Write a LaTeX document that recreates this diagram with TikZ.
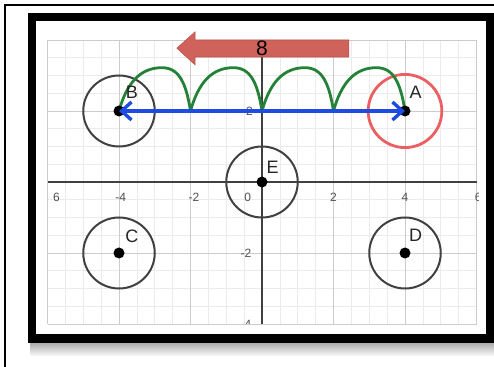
\documentclass[tikz,border=0pt]{standalone}
\usepackage{fontspec}
\setmainfont{Liberation Sans}
\usetikzlibrary{arrows.meta}
\definecolor{circgray}{RGB}{64,64,64}
\definecolor{ringred}{RGB}{235,95,98}
\definecolor{arrowred}{RGB}{208,98,92}
\definecolor{arrowedge}{RGB}{185,80,75}
\definecolor{bluearrow}{RGB}{30,75,225}
\definecolor{greenpath}{RGB}{35,130,55}
\definecolor{ticklab}{RGB}{80,80,80}
\tikzset{
  ring/.style={draw=circgray, line width=2pt},
  redring/.style={draw=ringred, line width=2.8pt},
  dotpt/.style={circle, fill=black, inner sep=0pt, minimum size=11pt},
  ptlabel/.style={font=\fontsize{18}{18}\selectfont, text=black!85, inner sep=0pt},
  ticklabel/.style={font=\fontsize{12}{12}\selectfont, text=ticklab, inner sep=0pt},
  arch/.style={draw=greenpath, line width=2.8pt},
  bluelink/.style={draw=bluearrow, line width=3.4pt},
}
\begin{document}
\begin{tikzpicture}[x=1pt,y=1pt]
\clip (0,0) rectangle (494,366);
\useasboundingbox (0,0) rectangle (494,366);
\fill[white] (0,0) rectangle (494,366);
% thin outer frame
\draw[line width=1.6pt] (5,361) rectangle (520,-20);
% shadow
\shade[top color=gray!65, bottom color=gray!8] (30,23) rectangle (494,11);
% thick frame
\fill[white] (32,27.5) rectangle (490,349);
\draw[line width=8pt] (32,27.5) rectangle (490,349);
\begin{scope}[shift={(262,184)}, x=35.75pt, y=35.5pt]
  % grid
  \draw[gray!16, line width=0.6pt] (-6,-4) grid[step=0.5] (6,4);
  \draw[gray!40, line width=0.8pt] (-6,-4) grid[step=2] (6,4);
  \draw[black!75, line width=1.1pt] (-6,0) -- (6,0);
  \draw[black!75, line width=1.1pt] (0,-4) -- (0,4);
  % tick labels
  \node[ticklabel] (tm6) at (-5.75,-0.42) {6};
  \node[ticklabel] (tm4) at (-3.95,-0.42) {-4};
  \node[ticklabel] (tm2) at (-1.9,-0.42) {-2};
  \node[ticklabel] (t0) at (-0.4,-0.42) {0};
  \node[ticklabel] (t2) at (2.0,-0.42) {2};
  \node[ticklabel] (t4) at (4.0,-0.42) {4};
  \begin{scope}
    \clip (-6.2,-1) rectangle (6.05,0);
    \node[ticklabel] (t6) at (6.05,-0.42) {6};
  \end{scope}
  \node[ticklabel] (ty2) at (-0.35,2) {2};
  \node[ticklabel] (tym2) at (-0.45,-2) {-2};
  \begin{scope}
    \clip (-1,-3.99) rectangle (0,-3);
    \node[ticklabel] (tym4) at (-0.45,-4) {-4};
  \end{scope}
  % circles
  \draw[ring] (-4,2) circle (1);
  \draw[redring] (4,2) circle (1.03);
  \draw[ring] (0,0) circle (1);
  \draw[ring] (-4,-2) circle (1);
  \draw[ring] (4,-2) circle (1);
  % red arrow
  \path[fill=arrowred, draw=arrowedge, line width=0.6pt]
    (-2.38,3.77) -- (-1.87,4.23) -- (-1.87,4.0) -- (2.43,4.0)
    -- (2.43,3.52) -- (-1.87,3.52) -- (-1.87,3.30) -- cycle;
  \node[font=\fontsize{21}{21}\selectfont, inner sep=0pt] (eight) at (0,3.78) {8};
  % green arches
  \foreach \a in {-4,-2,0,2}{
    \draw[arch] (\a,2) .. controls (\a+0.22,2.8) and (\a+0.6,3.22) .. (\a+1.2,3.22)
      .. controls (\a+1.7,3.22) and (\a+1.88,2.75) .. (\a+2,2);
  }
  % points
  \node[dotpt] (B) at (-4,2) {};
  \node[dotpt] (A) at (4,2) {};
  \node[dotpt] (E) at (0,0) {};
  \node[dotpt] (C) at (-4,-2) {};
  \node[dotpt] (D) at (4,-2) {};
  % blue arrow
  \draw[bluelink, {Straight Barb[length=10pt,width=18pt]}-{Straight Barb[length=10pt,width=18pt]}]
    (B.center) -- (A.center);
  % labels
  \node[ptlabel] (lB) at (-3.64,2.52) {B};
  \node[ptlabel] (lA) at (4.3,2.53) {A};
  \node[ptlabel] (lE) at (0.3,0.42) {E};
  \node[ptlabel] (lC) at (-3.64,-1.52) {C};
  \node[ptlabel] (lD) at (4.3,-1.5) {D};
\end{scope}
\end{tikzpicture}
\end{document}
